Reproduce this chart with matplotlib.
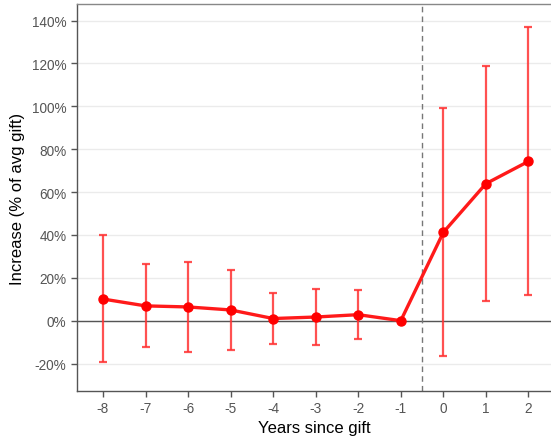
import matplotlib
matplotlib.use("Agg")
import matplotlib.pyplot as plt
from matplotlib.ticker import FuncFormatter

years = [-8, -7, -6, -5, -4, -3, -2, -1, 0, 1, 2]
estimate = [10.1, 6.9, 6.4, 5.0, 1.0, 1.7, 2.8, 0.0, 41.2, 63.9, 74.3]
ci_low = [-19.3, -12.3, -14.6, -13.5, -11.0, -11.2, -8.4, 0.0, -16.3, 9.2, 11.8]
ci_high = [39.8, 26.4, 27.4, 23.5, 12.9, 14.6, 14.3, 0.0, 99.1, 118.6, 137.0]
y_ticks = [-20, 0, 20, 40, 60, 80, 100, 120, 140]

plt.rcParams['font.family'] = ['Liberation Sans', 'DejaVu Sans']

fig = plt.figure(figsize=(5.51, 4.39), dpi=100)
ax = fig.add_axes([77/551, 47/439, 474/551, 387/439])

for y in y_ticks:
    ax.axhline(y, color='#EBEBEB', lw=1.0, zorder=0)
ax.axhline(0, color='#555555', lw=1.0, zorder=1)
ax.axvline(-0.5, color='#777777', lw=1.0, ls=(0, (4, 3)), zorder=1)

for x, lo, hi in zip(years, ci_low, ci_high):
    if hi == lo:
        continue
    ax.errorbar([x], [(lo + hi) / 2], yerr=[[(hi - lo) / 2], [(hi - lo) / 2]],
                fmt='none', ecolor='#FF3333', alpha=0.85, elinewidth=1.6,
                capsize=3, capthick=1.6, zorder=2)

ax.plot(years, estimate, color='#FF1A1A', lw=2.4, marker='o', ms=6.5,
        markerfacecolor='#FF0000', markeredgecolor='#FF0000', zorder=3)

ax.set_xlim(-8.61, 2.53)
ax.set_ylim(-32.8, 147.7)
ax.set_xticks(years)
ax.set_xticklabels([str(v) for v in years])
ax.set_yticks(y_ticks)
ax.yaxis.set_major_formatter(FuncFormatter(lambda v, p: f"{int(v)}%"))

for s in ['left', 'bottom', 'top']:
    ax.spines[s].set_color('#555555')
    ax.spines[s].set_linewidth(1.0)
ax.spines['right'].set_visible(False)
ax.spines['top'].set_color('#888888')

ax.tick_params(axis='both', colors='#555555', labelcolor='#555555',
               labelsize=9.8, length=4, width=1.0, direction='out')
ax.set_xlabel('Years since gift', fontsize=12, color='black', labelpad=3)
ax.set_ylabel('Increase (% of avg gift)', fontsize=12, color='black', labelpad=5)

fig.savefig('out.png', dpi=100)
